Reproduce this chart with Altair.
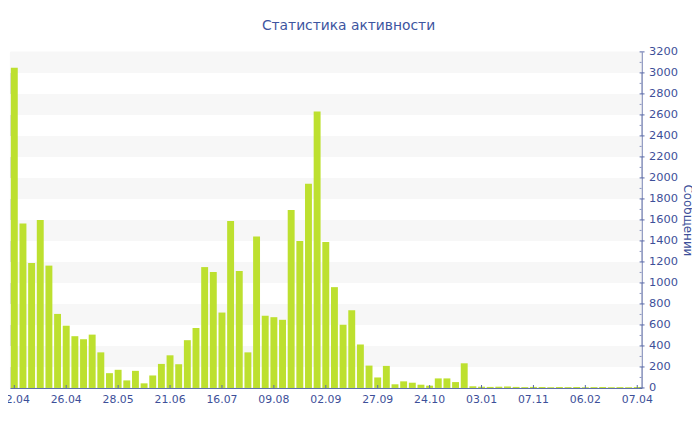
import altair as alt
import pandas as pd

# Message counts per bar (73 bars)
values = [
    3050, 1565, 1190, 1600, 1165, 705, 593, 493, 464, 508,
    339, 141, 173, 72, 163, 44, 119, 229, 311, 226,
    455, 571, 1151, 1104, 718, 1590, 1114, 339, 1443, 687,
    674, 649, 1694, 1399, 1945, 2632, 1390, 960, 602, 740,
    414, 213, 100, 210, 35, 63, 50, 31, 22, 91,
    91, 56, 235, 16, 12, 10, 12, 14, 10, 8,
    10, 9, 7, 9, 8, 9, 7, 8, 9, 7,
    8, 7, 9,
]
tick_labels = ["02.04", "26.04", "28.05", "21.06", "16.07", "09.08", "02.09",
               "27.09", "24.10", "03.01", "07.11", "06.02", "07.04"]
tick_positions = list(range(0, 73, 6))
y_major = list(range(0, 3201, 200))
y_minor = list(range(100, 3200, 200))
stripe_starts = [200, 600, 1000, 1400, 1800, 2200, 2600, 3000]
stripe_ends = [400, 800, 1200, 1600, 2000, 2400, 2800, 3200]

W, H = 639, 340

bars_df = pd.DataFrame({"idx": list(range(len(values))), "value": values})
stripes_df = pd.DataFrame({"y0": stripe_starts, "y1": stripe_ends})
major_df = pd.DataFrame({"v": y_major})
minor_df = pd.DataFrame({"v": y_minor})
xtick_df = pd.DataFrame({"idx": tick_positions})

label_map = "{" + ",".join(f"'{p}':'{l}'" for p, l in zip(tick_positions, tick_labels)) + "}"

AX = "#5868a8"
TX = "#3d4f99"
FONT = "DejaVu Sans"

yscale = alt.Scale(domain=[0, 3200], nice=False)
xscale = alt.Scale(paddingInner=0.2, paddingOuter=0.1, domain=list(range(len(values))))

xaxis = alt.Axis(values=tick_positions,
                 labelExpr=f"{label_map}[datum.value]",
                 labelAngle=0, title=None, domainColor=AX,
                 ticks=False, labelColor=TX,
                 labelFont=FONT, labelFontSize=11, labelPadding=6,
                 labelOverlap=False, grid=False)
yaxis = alt.Axis(orient="right", values=y_major,
                 format="d", labelOverlap=False,
                 title="Сообщений", titleColor=TX, titleFont=FONT,
                 titleFontSize=12, titleFontWeight="normal",
                 titlePadding=3, domainColor=AX, ticks=False,
                 labelColor=TX, labelFont=FONT, labelFontSize=11.5,
                 labelPadding=7, grid=False)

stripes = alt.Chart(stripes_df).mark_rect(color="#f7f7f7").encode(
    y=alt.Y("y0:Q", scale=yscale, axis=yaxis, title="Сообщений"),
    y2="y1:Q",
)

bars = alt.Chart(bars_df).mark_bar(color="#bde02f").encode(
    x=alt.X("idx:O", scale=xscale, axis=xaxis, title=None),
    y=alt.Y("value:Q", scale=yscale, axis=yaxis, title="Сообщений"),
)

major_ticks = alt.Chart(major_df).mark_rule(color=AX, strokeWidth=1).encode(
    y=alt.Y("v:Q", scale=yscale, axis=yaxis, title="Сообщений"),
    x=alt.value(W - 2), x2=alt.value(W + 3),
)
minor_ticks = alt.Chart(minor_df).mark_rule(color="#8a94c0", strokeWidth=1).encode(
    y=alt.Y("v:Q", scale=yscale, axis=yaxis, title="Сообщений"),
    x=alt.value(W - 2), x2=alt.value(W),
)
x_ticks = alt.Chart(xtick_df).mark_rule(color=AX, strokeWidth=1).encode(
    x=alt.X("idx:O", scale=xscale, axis=xaxis, title=None),
    y=alt.value(H - 3), y2=alt.value(H),
)

chart = alt.layer(stripes, bars, x_ticks, minor_ticks, major_ticks).properties(
    width=W,
    height=H,
    autosize=alt.AutoSizeParams(type="none"),
    padding={"left": 2, "top": 42, "right": 51, "bottom": 30},
    title=alt.TitleParams("Статистика активности", font=FONT, fontSize=14,
                          fontWeight="normal", color="#3d55a0",
                          anchor="middle", dx=23, offset=13),
).configure_view(stroke=None).configure(background="white")

chart.save("out.html", embed_options={"renderer": "svg", "actions": False})
